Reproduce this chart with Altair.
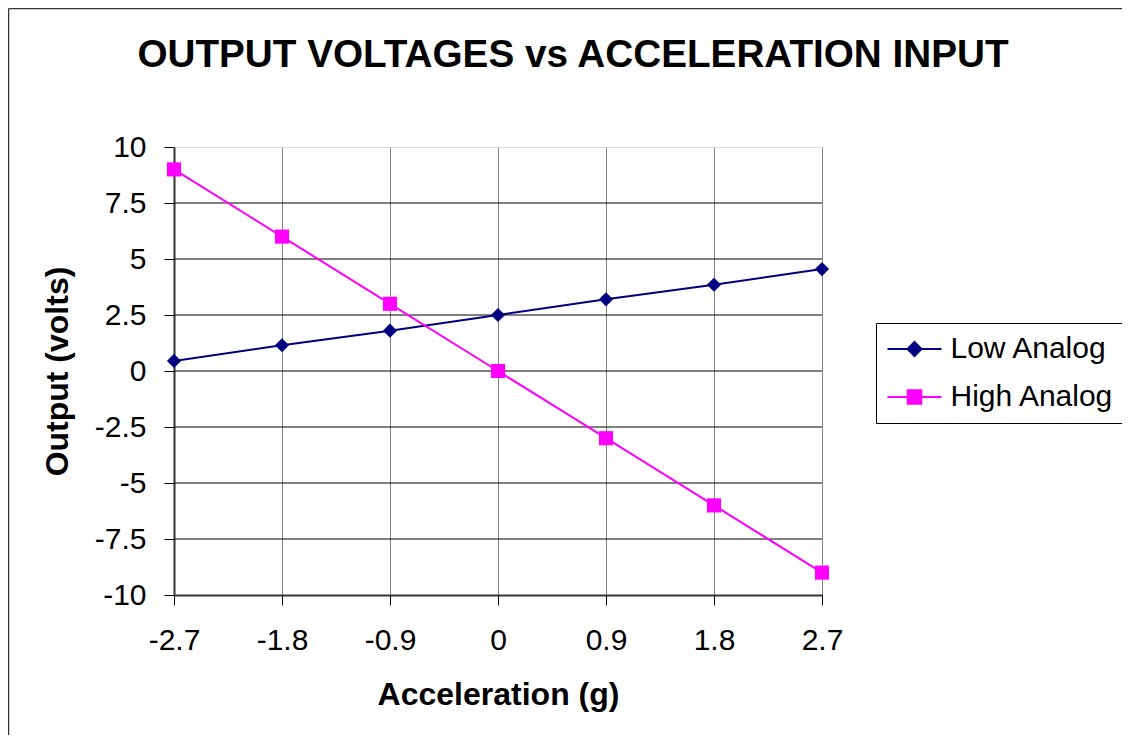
import altair as alt
import pandas as pd

accel = [-2.7, -1.8, -0.9, 0, 0.9, 1.8, 2.7]
low_analog = [0.45, 1.15, 1.8, 2.5, 3.2, 3.85, 4.55]
high_analog = [9, 6, 3, 0, -3, -6, -9]
series_names = ["Low Analog", "High Analog"]
series_colors = ["#000080", "#FF00FF"]
series_shapes = ["diamond", "square"]
y_ticks = [-10, -7.5, -5, -2.5, 0, 2.5, 5, 7.5, 10]
y_grid = [-7.5, -5, -2.5, 0, 2.5, 5, 7.5]

FONT = "Liberation Sans"

df = pd.DataFrame({
    "accel": accel * 2,
    "volts": low_analog + high_analog,
    "series": [series_names[0]] * len(accel) + [series_names[1]] * len(accel),
})
grid_df = pd.DataFrame({"volts": y_grid})
one = pd.DataFrame({"a": [0]})

x_enc = alt.X(
    "accel:Q",
    scale=alt.Scale(domain=[accel[0], accel[-1]], nice=False, zero=False),
    axis=alt.Axis(
        values=accel, labelExpr="'' + datum.value", title="Acceleration (g)",
        grid=True, gridColor="#808080", gridWidth=1, labelFlush=False,
        domainColor="#333333", domainWidth=2, tickColor="#000000", tickWidth=1, tickSize=10,
        labelFont=FONT, labelFontSize=30, labelColor="black", labelPadding=20,
        titleFont=FONT, titleFontSize=32, titleFontWeight="bold", titleColor="black", titlePadding=24,
    ),
)
y_enc = alt.Y(
    "volts:Q",
    scale=alt.Scale(domain=[-10, 10], nice=False),
    axis=alt.Axis(
        values=y_ticks, labelExpr="'' + datum.value", title="Output (volts)", grid=False,
        labelFlush=False,
        domainColor="#333333", domainWidth=2, tickColor="#000000", tickWidth=1, tickSize=10,
        labelFont=FONT, labelFontSize=30, labelColor="black", labelPadding=18,
        titleFont=FONT, titleFontSize=32, titleFontWeight="bold", titleColor="black", titlePadding=20,
    ),
)
color_scale = alt.Scale(domain=series_names, range=series_colors)

legend_shape = (
    "datum.value === 'Low Analog' ? "
    "'M-2.7,0L2.7,0M0,-0.7L0.7,0L0,0.7L-0.7,0Z' : "
    "'M-2.7,0L2.7,0M-0.68,-0.68L0.68,-0.68L0.68,0.68L-0.68,0.68Z'"
)
legend = alt.Legend(
    title=None, orient="none", legendX=702, legendY=176,
    strokeColor="black", fillColor="white", padding=11,
    labelFont=FONT, labelFontSize=30, labelColor="black", labelLimit=400,
    symbolSize=400, symbolStrokeWidth=2, symbolOffset=12.5, labelOffset=21,
    rowPadding=18,
    symbolType={"expr": legend_shape},
    symbolStrokeColor={"expr": "scale('color', datum.value)"},
    symbolFillColor={"expr": "scale('color', datum.value)"},
)
color_enc = alt.Color("series:N", scale=color_scale, legend=legend)

grid = alt.Chart(grid_df).mark_rule(color="black", strokeWidth=1).encode(y=y_enc)

lines = alt.Chart(df).mark_line(strokeWidth=2).encode(
    x=x_enc, y=y_enc, color=color_enc,
)

point_layers = [
    alt.Chart(df).transform_filter(alt.datum.series == name)
    .mark_point(filled=True, size=200, opacity=1, shape=shp)
    .encode(x=x_enc, y=y_enc, color=color_enc)
    for name, shp in zip(series_names, series_shapes)
]

border_left = alt.Chart(one).mark_rule(color="#333333", strokeWidth=1.5).encode(
    x=alt.value(-165.5), y=alt.value(-138.5), y2=alt.value(588)
)
border_top = alt.Chart(one).mark_rule(color="#333333", strokeWidth=1.5).encode(
    x=alt.value(-165.5), x2=alt.value(948), y=alt.value(-138.5)
)

chart = alt.layer(grid, lines, *point_layers, border_left, border_top).properties(
    width=648, height=448,
    title=alt.TitleParams(
        "OUTPUT VOLTAGES vs ACCELERATION INPUT", font=FONT, fontSize=38.7, fontWeight="bold",
        color="black", anchor="middle", frame="group", dx=75, offset=-106, baseline="bottom",
    ),
    autosize=alt.AutoSizeParams(type="none"),
    padding={"left": 166, "top": 139, "right": 300, "bottom": 140},
).configure_view(stroke="#808080", strokeWidth=2).configure(background="white")

chart.save("out.html", embed_options={"renderer": "svg", "actions": False})
